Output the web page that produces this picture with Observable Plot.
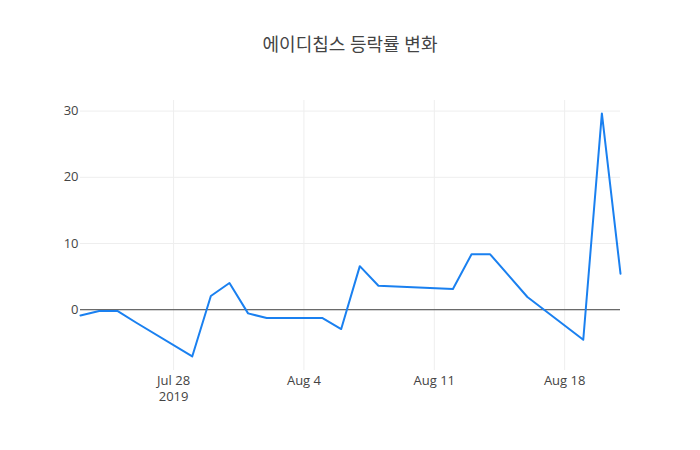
<!DOCTYPE html>
<html>
<head>
<meta charset="utf-8">
<script src="https://cdn.jsdelivr.net/npm/d3@7"></script>
<script src="https://cdn.jsdelivr.net/npm/@observablehq/plot@0.6"></script>
<style>
  body { margin: 0; background: #fff; }
  #title { height: 70px; width: 700px; display: flex; align-items: flex-end; justify-content: center;
    font-family: "Open Sans", "Noto Sans CJK KR", sans-serif; font-size: 18px; color: #444; box-sizing: border-box; padding-bottom: 14px; }
  #chart svg { display: block; }
</style>
</head>
<body>
<div id="title">에이디칩스 등락률 변화</div>
<div id="chart"></div>
<script>
const dates = ["2019-07-23","2019-07-24","2019-07-25","2019-07-26","2019-07-29","2019-07-30","2019-07-31",
  "2019-08-01","2019-08-02","2019-08-05","2019-08-06","2019-08-07","2019-08-08","2019-08-12",
  "2019-08-13","2019-08-14","2019-08-16","2019-08-19","2019-08-20","2019-08-21"];
const changes = [-0.86,-0.2,-0.2,-1.97,-7.06,2.07,4.03,-0.55,-1.26,-1.26,-2.92,6.58,3.63,3.13,
  8.37,8.37,1.92,-4.54,29.65,5.45];
const xTicks = ["2019-07-28","2019-08-04","2019-08-11","2019-08-18"];
const yTicks = [0,10,20,30];

const data = dates.map((d,i) => ({date: new Date(d), value: changes[i]}));
const tickDates = xTicks.map(d => new Date(d));
const fmt = d3.utcFormat("%b %-d");

const chart = Plot.plot({
  width: 700,
  height: 380,
  marginTop: 30,
  marginBottom: 80,
  marginLeft: 80,
  marginRight: 80,
  style: {fontFamily: "'Open Sans', sans-serif", fontSize: "13px", color: "#444", background: "#fff"},
  x: {type: "utc", domain: [new Date("2019-07-23"), new Date("2019-08-21")]},
  y: {domain: [-9.18, 31.6]},
  marks: [
    Plot.gridX(tickDates, {stroke: "#eee", strokeOpacity: 1}),
    Plot.gridY(yTicks, {stroke: "#eee", strokeOpacity: 1}),
    Plot.ruleY([0], {stroke: "#444", strokeWidth: 1}),
    Plot.axisX(tickDates, {tickSize: 0, tickPadding: 2, lineHeight: 1.3, fill: "#444",
      tickFormat: (d, i) => i === 0 ? fmt(d) + "\n" + d.getUTCFullYear() : fmt(d), label: null}),
    Plot.axisY(yTicks, {tickSize: 0, tickPadding: 2, fill: "#444", label: null}),
    Plot.line(data, {x: "date", y: "value", stroke: "#1a80f0", strokeWidth: 2})
  ]
});
document.getElementById("chart").appendChild(chart);
</script>
</body>
</html>
